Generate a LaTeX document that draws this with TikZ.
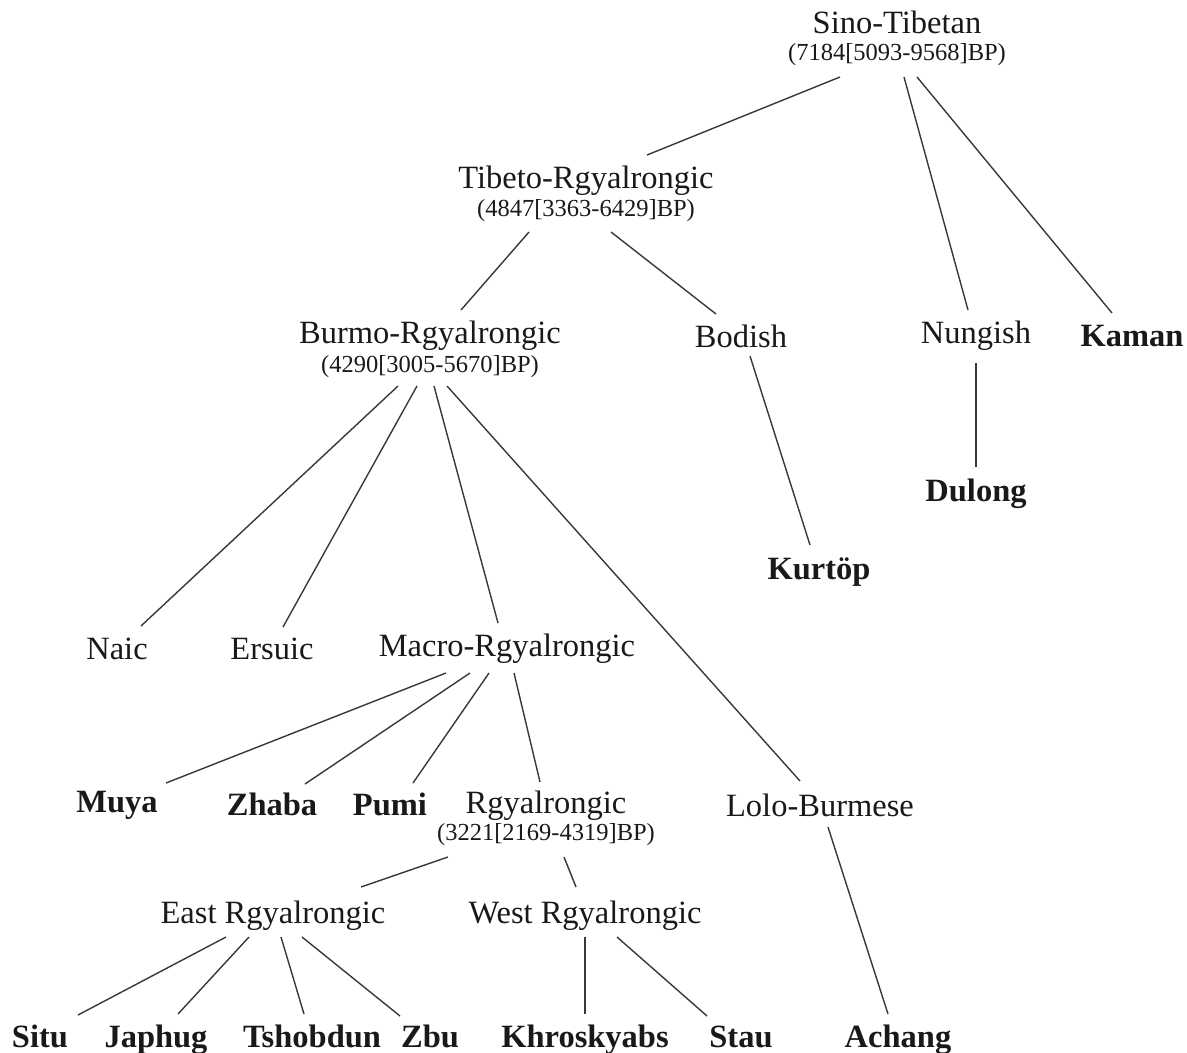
\documentclass[tikz,border=0pt]{standalone}
\usepackage{fontspec}
\setmainfont{Liberation Serif}
\usetikzlibrary{calc}
\tikzset{
  lab/.style={inner sep=0pt, text=black!90, font=\fontsize{32.5}{38}\selectfont, text height=25pt, text depth=6pt},
  leaf/.style={lab, font=\fontsize{32.5}{38}\selectfont\bfseries},
  sub/.style={inner sep=0pt, text=black!90, font=\fontsize{24.5}{29}\selectfont, text height=18pt, text depth=5pt},
  edge/.style={draw=black!78, line width=1.4pt}
}
\begin{document}
\begin{tikzpicture}[x=1pt,y=-1pt]
\useasboundingbox (0,0) rectangle (1187,1053);
% nodes
\node[lab] (ST) at (897,24) {Sino-Tibetan};
\node[sub] (STs) at (897,54) {(7184[5093-9568]BP)};
\node[lab] (TR) at (586,179) {Tibeto-Rgyalrongic};
\node[sub] (TRs) at (586,210) {(4847[3363-6429]BP)};
\node[lab] (BR) at (430,334) {Burmo-Rgyalrongic};
\node[sub] (BRs) at (430,366) {(4290[3005-5670]BP)};
\node[lab] (BO) at (741,338) {Bodish};
\node[lab] (NU) at (976,334) {Nungish};
\node[leaf] (KA) at (1132,337) {Kaman};
\node[leaf] (DU) at (976,492) {Dulong};
\node[leaf] (KU) at (819,570) {Kurtöp};
\node[lab] (NA) at (117,650) {Naic};
\node[lab] (ER) at (272,650) {Ersuic};
\node[lab] (MR) at (507,647) {Macro-Rgyalrongic};
\node[leaf] (MU) at (117,803) {Muya};
\node[leaf] (ZH) at (272,806) {Zhaba};
\node[leaf] (PU) at (390,806) {Pumi};
\node[lab] (RG) at (546,804) {Rgyalrongic};
\node[sub] (RGs) at (546,834) {(3221[2169-4319]BP)};
\node[lab] (LB) at (820,807) {Lolo-Burmese};
\node[lab] (EA) at (273,914) {East Rgyalrongic};
\node[lab] (WR) at (585,914) {West Rgyalrongic};
\node[leaf] (SI) at (40,1038) {Situ};
\node[leaf] (JA) at (156,1038) {Japhug};
\node[leaf] (TS) at (312,1038) {Tshobdun};
\node[leaf] (ZB) at (430,1038) {Zbu};
\node[leaf] (KH) at (585,1038) {Khroskyabs};
\node[leaf] (SA) at (741,1038) {Stau};
\node[leaf] (AC) at (898,1038) {Achang};
% connectors
\draw[edge] ($(STs)+(-57,23)$) -- ($(TR)+(61,-24)$);
\draw[edge] ($(STs)+(7,23)$) -- ($(NU)+(-8,-24)$);
\draw[edge] ($(STs)+(20,23)$) -- ($(KA)+(-20,-24)$);
\draw[edge] ($(TRs)+(-57,22)$) -- ($(BR)+(31,-24)$);
\draw[edge] ($(TRs)+(25,22)$) -- ($(BO)+(-25,-24)$);
\draw[edge] ($(BO)+(9,18)$) -- ($(KU)+(-9,-25)$);
\draw[edge] ($(NU)+(0,29)$) -- ($(DU)+(0,-25)$);
\draw[edge] ($(BRs)+(-32,20)$) -- ($(NA)+(24,-24)$);
\draw[edge] ($(BRs)+(-13,20)$) -- ($(ER)+(11,-23)$);
\draw[edge] ($(BRs)+(4,20)$) -- ($(MR)+(-9,-24)$);
\draw[edge] ($(BRs)+(17,20)$) -- ($(LB)+(-20,-26)$);
\draw[edge] ($(MR)+(-61,26)$) -- ($(MU)+(49,-20)$);
\draw[edge] ($(MR)+(-37,26)$) -- ($(ZH)+(33,-22)$);
\draw[edge] ($(MR)+(-18,26)$) -- ($(PU)+(23,-23)$);
\draw[edge] ($(MR)+(7,26)$) -- ($(RG)+(-6,-22)$);
\draw[edge] ($(RGs)+(-98,23)$) -- ($(EA)+(88,-27)$);
\draw[edge] ($(RGs)+(18,23)$) -- ($(WR)+(-9,-27)$);
\draw[edge] ($(EA)+(-47,23)$) -- ($(SI)+(38,-23)$);
\draw[edge] ($(EA)+(-24,23)$) -- ($(JA)+(22,-24)$);
\draw[edge] ($(EA)+(8,23)$) -- ($(TS)+(-8,-24)$);
\draw[edge] ($(EA)+(29,23)$) -- ($(ZB)+(-30,-22)$);
\draw[edge] ($(WR)+(0,23)$) -- ($(KH)+(0,-24)$);
\draw[edge] ($(WR)+(32,23)$) -- ($(SA)+(-34,-22)$);
\draw[edge] ($(LB)+(8,20)$) -- ($(AC)+(-10,-24)$);
\end{tikzpicture}
\end{document}
